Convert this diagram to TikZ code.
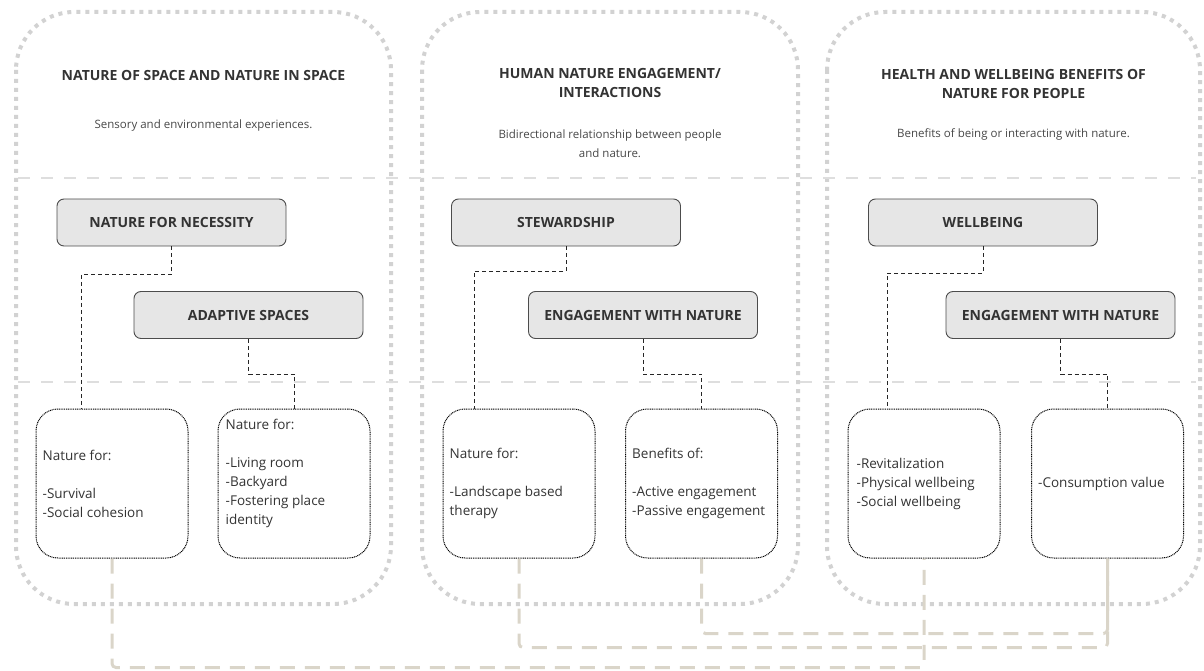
\documentclass[tikz,border=0pt]{standalone}
\usepackage{fontspec}
\setmainfont{Open Sans}
\usepackage{tikz}
\usetikzlibrary{shapes,arrows}
\usetikzlibrary{calc}
\usetikzlibrary{positioning}

\definecolor{panelgray}{HTML}{D2D2D2}
\definecolor{rulegray}{HTML}{DEDEDE}
\definecolor{boxgray}{HTML}{E6E6E6}
\definecolor{bondtan}{HTML}{DAD5C9}
\definecolor{inkgray}{HTML}{333333}

\newcommand{\panelhead}{\fontsize{14}{19}\selectfont\bfseries}
\newcommand{\panelnote}{\fontsize{11.5}{19}\selectfont}
\newcommand{\boxlabel}{\fontsize{14}{17}\selectfont\bfseries}
\newcommand{\leaftxt}{\fontsize{13.5}{19}\selectfont}

\tikzstyle{panel} = [draw=panelgray, line width=4pt, dash pattern=on 4pt off 5pt, rounded corners=58pt]
\tikzstyle{divider} = [draw=rulegray, line width=2pt, dash pattern=on 12pt off 11pt]
\tikzstyle{head} = [align=center, font=\panelhead, text=inkgray, inner sep=0pt]
\tikzstyle{note} = [align=center, font=\panelnote, text=inkgray!90, inner sep=0pt]
\tikzstyle{catbox} = [draw=black!70, fill=boxgray, line width=0.9pt, rounded corners=7pt, minimum width=229pt, minimum height=47pt, font=\boxlabel, text=inkgray]
\tikzstyle{leaf} = [draw=black, line width=1pt, dash pattern=on 1pt off 0.8pt, rounded corners=22pt, minimum width=152pt, minimum height=149pt, inner sep=0pt]
\tikzstyle{leaftext} = [align=left, font=\leaftxt, text=inkgray, inner sep=0pt, anchor=west]
\tikzstyle{link} = [draw=black!85, line width=0.9pt, dash pattern=on 4pt off 3pt]
\tikzstyle{bond} = [draw=bondtan, line width=3pt, dash pattern=on 15pt off 10pt, rounded corners=4pt]

\begin{document}
\begin{tikzpicture}[x=1pt, y=-1pt]
    \useasboundingbox (0,0) rectangle (1204,671);

    % three columns
    \draw [panel] (16,12) rectangle (391,604);
    \draw [panel] (422,12) rectangle (798,604);
    \draw [panel] (827,12) rectangle (1200,604);
    \draw [divider] (18,178) -- (1196,178);
    \draw [divider] (18,382) -- (1196,382);

    \node [head, name=spacehead] at (203.5,75) {NATURE OF SPACE AND NATURE IN SPACE};
    \node [note, name=spacenote] at (203.5,126) {Sensory and environmental experiences.};
    \node [head, name=engagehead] at (610,83.5) {HUMAN NATURE ENGAGEMENT/\\INTERACTIONS};
    \node [note, name=engagenote] at (610,143.5) {Bidirectional relationship between people\\and nature.};
    \node [head, name=healthhead] at (1013.5,84) {HEALTH AND WELLBEING BENEFITS OF\\NATURE FOR PEOPLE};
    \node [note, name=healthnote] at (1013.5,134) {Benefits of being or interacting with nature.};

    % category boxes
    \node [catbox, name=necessity] at (171.5,222.5) {NATURE FOR NECESSITY};
    \node [catbox, name=adaptive] at (248.5,315) {ADAPTIVE SPACES};
    \node [catbox, name=steward] at (566,222.5) {STEWARDSHIP};
    \node [catbox, name=engage] at (643,315) {ENGAGEMENT WITH NATURE};
    \node [catbox, name=wellbeing] at (983,222.5) {WELLBEING};
    \node [catbox, name=engagewb] at (1060.5,315) {ENGAGEMENT WITH NATURE};

    % detail boxes
    \node [leaf, name=survival] at (112,483.5) {};
    \node [leaf, name=livingroom] at (294,483.5) {};
    \node [leaf, name=therapy] at (519,483.5) {};
    \node [leaf, name=benefits] at (701.5,483.5) {};
    \node [leaf, name=revital] at (924,483.5) {};
    \node [leaf, name=consumption] at (1107.5,483.5) {};

    \node [leaftext, name=survivaltext] at ([xshift=7pt]survival.west) {Nature for:\\[19pt]-Survival\\-Social cohesion};
    \node [leaftext, anchor=north west, name=livingtext] at ([shift={(8pt,-10pt)}]livingroom.north west) {Nature for:\\[19pt]-Living room\\-Backyard\\-Fostering place\\identity};
    \node [leaftext, name=therapytext] at ([xshift=7pt]therapy.west) {Nature for:\\[19pt]-Landscape based\\therapy};
    \node [leaftext, name=benefitstext] at ([xshift=7pt]benefits.west) {Benefits of:\\[19pt]-Active engagement\\-Passive engagement};
    \node [leaftext, name=revitaltext] at ([xshift=9pt]revital.west) {-Revitalization\\-Physical wellbeing\\-Social wellbeing};
    \node [leaftext, name=consumptiontext] at ([xshift=7pt]consumption.west) {-Consumption value};

    \draw [link] (necessity.south) -- ++(0,28) -| ([xshift=-31pt]survival.north);
    \draw [link] (adaptive.south) -- ++(0,35) -| (livingroom.north);
    \draw [link] (steward.south) -- ++(0,25) -| ([xshift=-45pt]therapy.north);
    \draw [link] (engage.south) -- ++(0,35) -| (benefits.north);
    \draw [link] (wellbeing.south) -- ++(0,27) -| ([xshift=-37pt]revital.north);
    \draw [link] (engagewb.south) -- ++(0,35) -| (consumption.north);

    \draw [bond] (survival.south) -- ++(0,109) -| (revital.south);
    \draw [bond] (therapy.south) -- ++(0,89) -| (consumption.south);
    \draw [bond] (benefits.south) -- ++(0,75) -| (consumption.south);
\end{tikzpicture}
\end{document}
